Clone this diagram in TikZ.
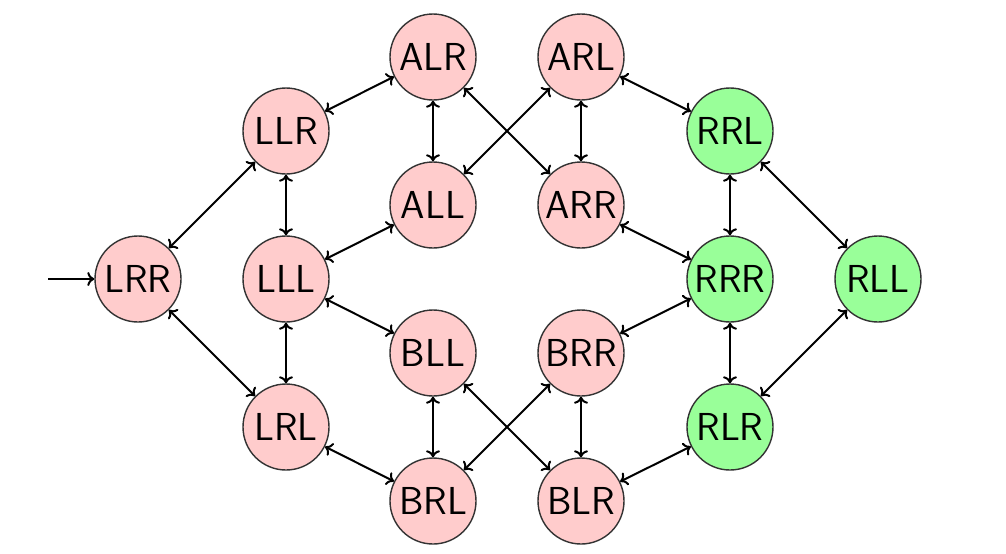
\documentclass[tikz,border=0pt]{standalone}
\usetikzlibrary{arrows.meta}
\begin{document}
\begin{tikzpicture}[x=0.5pt,y=-0.5pt,
  st/.style={circle,draw=black!80,line width=0.7pt,minimum size=43pt,inner sep=0pt,
    font=\fontsize{19.5}{22}\selectfont\sffamily},
  red/.style={st,fill=red!20},
  grn/.style={st,fill=green!40},
  tr/.style={<->,line width=1pt,>={To[length=3.5pt,width=7pt]}}]
\useasboundingbox (0,0) rectangle (1006,553);
\node[red] (LRR) at (138,279) {LRR};
\node[red] (LLR) at (286,131) {LLR};
\node[red] (LLL) at (286,279) {LLL};
\node[red] (LRL) at (286,427) {LRL};
\node[red] (ALR) at (433,57) {ALR};
\node[red] (ALL) at (433,205) {ALL};
\node[red] (BLL) at (433,353) {BLL};
\node[red] (BRL) at (433,501) {BRL};
\node[red] (ARL) at (581,57) {ARL};
\node[red] (ARR) at (581,205) {ARR};
\node[red] (BRR) at (581,353) {BRR};
\node[red] (BLR) at (581,501) {BLR};
\node[grn] (RRL) at (730,131) {RRL};
\node[grn] (RRR) at (730,279) {RRR};
\node[grn] (RLR) at (730,427) {RLR};
\node[grn] (RLL) at (878,279) {RLL};
\coordinate (start) at (48,279);
\draw[->,line width=1pt,>={To[length=3.5pt,width=7pt]}] (start) -- (LRR);
\foreach \a/\b in {LRR/LLR,LRR/LRL,LLR/LLL,LLL/LRL,LLR/ALR,LLL/ALL,LLL/BLL,LRL/BRL,
  ALR/ALL,ALR/ARR,ARL/ALL,ARL/ARR,ARL/RRL,ARR/RRR,BLL/BRL,BLL/BLR,BRR/BRL,BRR/BLR,
  BRR/RRR,BLR/RLR,RRL/RRR,RRR/RLR,RRL/RLL,RLR/RLL}
  \draw[tr] (\a) -- (\b);
\end{tikzpicture}
\end{document}
